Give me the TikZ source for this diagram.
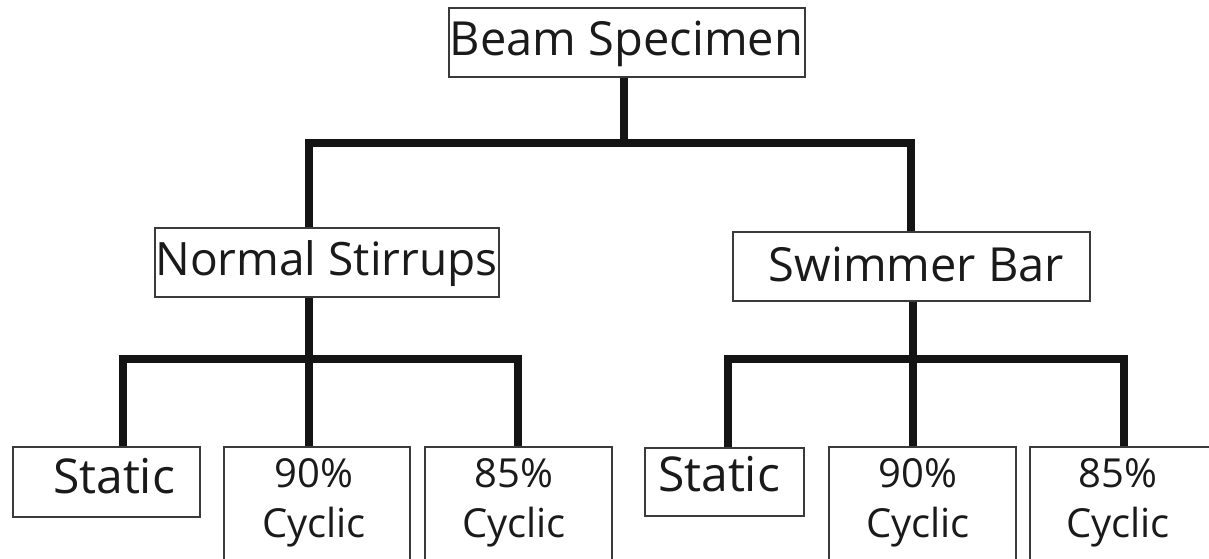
\documentclass[tikz,border=0pt]{standalone}
\usepackage{fontspec}
\setmainfont{Open Sans}
\definecolor{boxgray}{HTML}{3A3A3A}
\definecolor{linecol}{HTML}{141414}
\definecolor{textcol}{HTML}{1A1A1A}
\begin{document}
\begin{tikzpicture}[x=1pt,y=-1pt,
  box/.style={draw=boxgray,line width=1.5pt,inner sep=0pt,anchor=north west},
  conn/.style={line width=7.5pt,draw=linecol,line join=miter,line cap=butt},
  lbl/.style={inner sep=0pt,anchor=base,text=textcol},
  big/.style={font=\fontsize{47pt}{56pt}\selectfont},
  mid/.style={font=\fontsize{46pt}{56pt}\selectfont},
  two/.style={font=\fontsize{40pt}{50pt}\selectfont,align=center}]
\useasboundingbox (0,0) rectangle (1209,558);
\fill[white] (0,0) rectangle (1209,558);
\begin{scope}
\clip (0,0) rectangle (1209,558);
% boxes
\node[box,minimum width=356pt,minimum height=69pt] (beam) at (448,7) {};
\node[box,minimum width=344pt,minimum height=69pt] (ns) at (154,227) {};
\node[box,minimum width=357pt,minimum height=69pt] (sb) at (732,231) {};
\node[box,minimum width=187pt,minimum height=70pt] (st1) at (12,446) {};
\node[box,minimum width=186pt,minimum height=200pt] (c90a) at (223,446) {};
\node[box,minimum width=187pt,minimum height=200pt] (c85a) at (424,446) {};
\node[box,minimum width=159pt,minimum height=68pt] (st2) at (644,447) {};
\node[box,minimum width=187pt,minimum height=200pt] (c90b) at (828,446) {};
\node[box,minimum width=250pt,minimum height=200pt] (c85b) at (1029,446) {};
% labels
\node[lbl,big] (beamt) at (626.5,55) {Beam Specimen};
\node[lbl,mid] (nst) at (326.5,275) {Normal Stirrups};
\node[lbl,big] (sbt) at (916.5,281) {Swimmer Bar};
\node[lbl,font=\fontsize{48pt}{56pt}\selectfont] (st1t) at (114,493) {Static};
\node[lbl,font=\fontsize{48pt}{56pt}\selectfont] (st2t) at (719,491) {Static};
\node[lbl,two] (c90at) at (314,537) {90\%\\Cyclic};
\node[lbl,two] (c85at) at (514,537) {85\%\\Cyclic};
\node[lbl,two] (c90bt) at (918,537) {90\%\\Cyclic};
\node[lbl,two] (c85bt) at (1118,537) {85\%\\Cyclic};
% connectors
\coordinate (j0) at (624,143);
\coordinate (bL) at (309,143);
\coordinate (bR) at (911,143);
\draw[conn] (beam.south -| j0) -- (j0);
\draw[conn] (ns.north -| bL) -- (bL) -- (bR) -- (sb.north -| bR);
\coordinate (n0) at (309,359);
\coordinate (nL) at (123,359);
\coordinate (nR) at (518,359);
\draw[conn] (ns.south -| n0) -- (c90a.north -| n0);
\draw[conn] (st1.north -| nL) -- (nL) -- (nR) -- (c85a.north -| nR);
\coordinate (s0) at (913,359);
\coordinate (sL) at (728,359);
\coordinate (sR) at (1124,359);
\draw[conn] (sb.south -| s0) -- (c90b.north -| s0);
\draw[conn] (st2.north -| sL) -- (sL) -- (sR) -- (c85b.north -| sR);
\end{scope}
\end{tikzpicture}
\end{document}
